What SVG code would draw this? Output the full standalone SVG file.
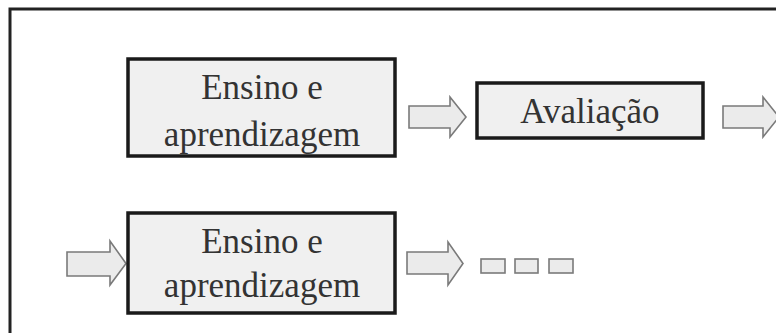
<svg xmlns="http://www.w3.org/2000/svg" width="776" height="333" viewBox="0 0 776 333">
<style>
.box{fill:#f0f0f0;stroke:#1a1a1a;stroke-width:3.5}
.lbl{font-family:"Liberation Serif","Times New Roman",serif;font-size:35px;fill:#333;text-anchor:middle}
.arr{fill:#ebebeb;stroke:#7a7a7a;stroke-width:1.6;stroke-linejoin:miter}
.dot{fill:#ebebeb;stroke:#7a7a7a;stroke-width:1.6}
</style>
<rect x="0" y="0" width="776" height="333" fill="#fff"/>
<g id="frame">
<polyline points="10,333 10,9 776,9" fill="none" stroke="#222" stroke-width="3"/>
</g>
<g id="connectors">
<polygon class="arr" points="409,106 450,106 450,97 466,117 450,137 450,128 409,128"/>
<polygon class="arr" points="723,106 763,106 763,97 779,117 763,137 763,128 723,128"/>
<polygon class="arr" points="67,252 110,252 110,241 126,263.5 110,285 110,276 67,276"/>
<polygon class="arr" points="407,252 448,252 448,242 463,263.5 448,285 448,274 407,274"/>
</g>
<g id="node-ensino1">
<rect class="box" x="128" y="59" width="267" height="97"/>
<text class="lbl" x="262" y="99">Ensino e</text>
<text class="lbl" x="262" y="146">aprendizagem</text>
</g>
<g id="node-avaliacao">
<rect class="box" x="477" y="83" width="226" height="55"/>
<text class="lbl" x="590" y="123">Avaliação</text>
</g>
<g id="node-ensino2">
<rect class="box" x="128" y="213" width="267" height="100"/>
<text class="lbl" x="262" y="253">Ensino e</text>
<text class="lbl" x="262" y="297">aprendizagem</text>
</g>
<g id="node-ellipsis">
<rect class="dot" x="481" y="259" width="24" height="14"/>
<rect class="dot" x="515" y="259" width="23" height="14"/>
<rect class="dot" x="549" y="259" width="24" height="14"/>
</g>
</svg>
